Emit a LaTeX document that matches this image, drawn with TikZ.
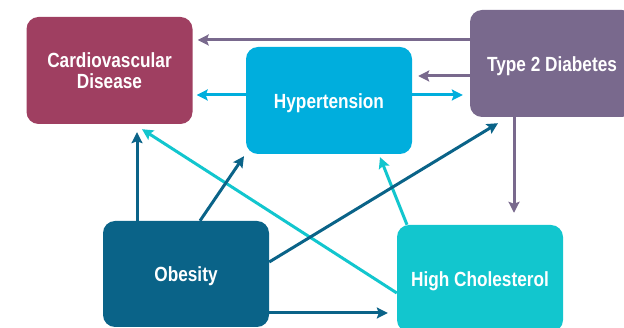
\documentclass[tikz,border=0pt]{standalone}
\usepackage{fontspec}
\newfontfamily\lblfont{Liberation Sans}[FakeStretch=0.84]
\usetikzlibrary{arrows.meta,calc}

\definecolor{cvdcol}{HTML}{9F3F61}
\definecolor{hypcol}{HTML}{00AEDD}
\definecolor{diacol}{HTML}{79698D}
\definecolor{obecol}{HTML}{0A6388}
\definecolor{cholcol}{HTML}{12C6CE}

\tikzset{
  box/.style={rectangle, rounded corners=12pt, draw=none, text=white,
    minimum width=166pt, minimum height=107pt, inner sep=0pt,
    align=center, font=\lblfont\bfseries\fontsize{20.5}{21}\selectfont,
    execute at begin node={\rule{0pt}{20pt}}},
  link/.style={line width=3pt, -{Stealth[length=11pt,width=11pt,inset=2pt]}},
}

\begin{document}
\begin{tikzpicture}[x=1pt,y=-1pt]
  \useasboundingbox (0,0) rectangle (624,328);

  % disease boxes
  \node[box, fill=cvdcol]  (cvd)  at (109.5,70.5) {Cardiovascular\\Disease};
  \node[box, fill=hypcol]  (hyp)  at (329,100.5)  {Hypertension};
  \node[box, fill=diacol, minimum width=164pt] (dia) at (552,63.5) {Type 2 Diabetes};
  \node[box, fill=obecol, minimum height=106pt] (obe) at (186,274) {Obesity};
  \node[box, fill=cholcol] (chol) at (480,278.5) {High Cholesterol};

  % links from Type 2 Diabetes
  \draw[link, diacol] ($(dia.west)+(0,-23.5)$) -- ($(cvd.east)+(5,-30.5)$);
  \draw[link, diacol] ($(dia.west)+(0,12.5)$) -- ($(hyp.east)+(6,-24.5)$);
  \draw[link, diacol] ($(dia.south)+(-38,0)$) -- ($(chol.north)+(34,-12)$);

  % links from Hypertension
  \draw[link, hypcol] ($(hyp.east)+(0,-5.5)$) -- ($(dia.west)+(-7,31.5)$);
  \draw[link, hypcol] ($(hyp.west)+(0,-5.5)$) -- ($(cvd.east)+(4,24.5)$);

  % links from High Cholesterol
  \draw[link, cholcol] ($(chol.west)+(0,14.5)$) -- ($(cvd.south)+(32.5,5)$);
  \draw[link, cholcol] ($(chol.north)+(-73,0)$) -- ($(hyp.south)+(51,3)$);

  % links from Obesity
  \draw[link, obecol] ($(obe.north)+(-49,0)$) -- ($(cvd.south)+(27.5,8)$);
  \draw[link, obecol] ($(obe.north)+(14,0)$) -- ($(hyp.south)+(-85,2)$);
  \draw[link, obecol] ($(obe.east)+(0,-12)$) -- ($(dia.south)+(-54,6)$);
  \draw[link, obecol] ($(obe.east)+(0,39)$) -- ($(chol.west)+(-9,34.5)$);
\end{tikzpicture}
\end{document}
